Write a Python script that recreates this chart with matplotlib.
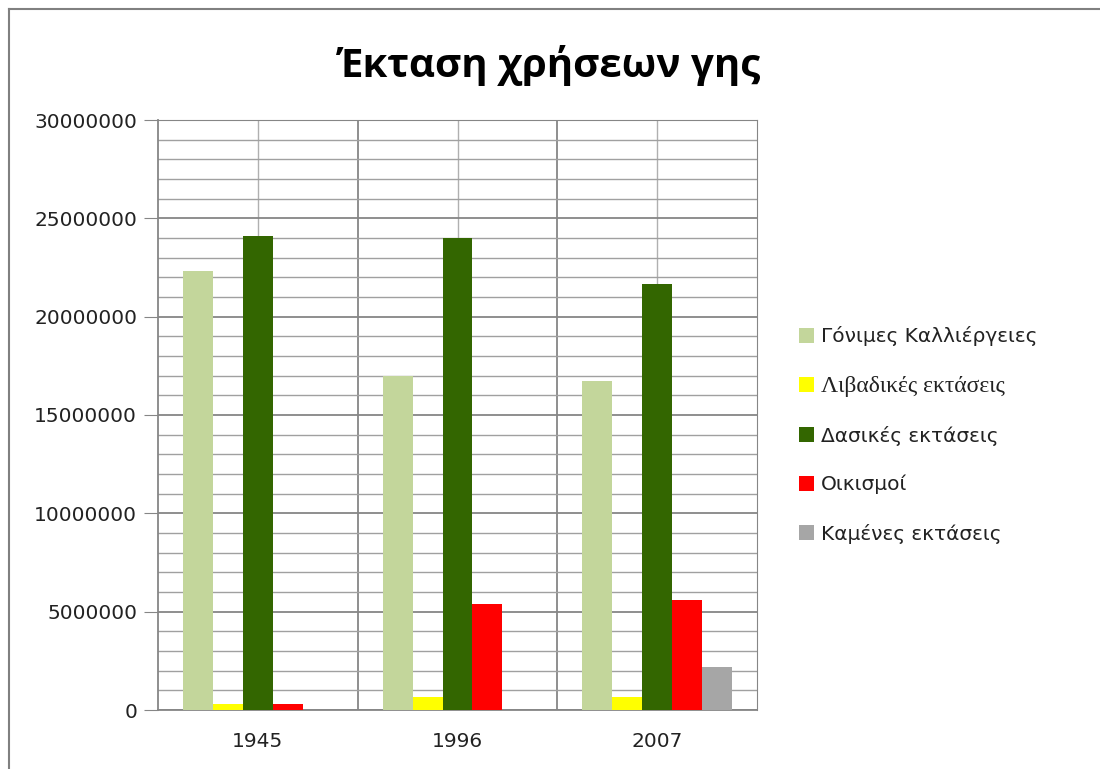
import numpy as np
import matplotlib.pyplot as plt
from matplotlib.lines import Line2D
from matplotlib.ticker import MultipleLocator

# -------------------------------
# Data
# -------------------------------
years = ['1945', '1996', '2007']
series_names = ['Γόνιμες Καλλιέργειες', 'Λιβαδικές εκτάσεις', 'Δασικές εκτάσεις',
                'Οικισμοί', 'Καμένες εκτάσεις']
fertile = [22300000, 17000000, 16750000]
meadows = [300000, 680000, 680000]
forest = [24100000, 24000000, 21650000]
settlements = [300000, 5370000, 5580000]
burned = [0, 0, 2200000]
colors = ['#C3D69B', '#FFFF00', '#336600', '#FF0000', '#A6A6A6']

values = [fertile, meadows, forest, settlements, burned]

# -------------------------------
# Plot
# -------------------------------
fig = plt.figure(figsize=(11, 7.69), dpi=100)
ax = fig.add_axes([158 / 1100, 1 - 710 / 769, 599 / 1100, 590 / 769])

x = np.arange(len(years))
bw = 0.15
for i, (vals, col, name) in enumerate(zip(values, colors, series_names)):
    ax.bar(x - 0.375 + bw * (i + 0.5), vals, width=bw, color=col, label=name, zorder=3)

ax.set_xlim(-0.5, 2.5)
ax.set_ylim(0, 30000000)
ax.yaxis.set_major_locator(MultipleLocator(5000000))
ax.yaxis.set_minor_locator(MultipleLocator(1000000))
ax.set_xticks(x)
ax.set_xticks([0.5, 1.5], minor=True)
ax.set_xticklabels(years)
ax.yaxis.set_major_formatter(plt.FuncFormatter(lambda v, p: '%d' % v))

ax.grid(which='major', axis='y', color='#868686', linewidth=1.3, zorder=0)
ax.grid(which='minor', axis='y', color='#A0A0A0', linewidth=1.0, zorder=0)
ax.grid(which='major', axis='x', color='#B0B0B0', linewidth=1.0, zorder=0)
ax.grid(which='minor', axis='x', color='#868686', linewidth=1.3, zorder=0)

for s in ['top', 'right']:
    ax.spines[s].set_color('#868686')
for s in ['left', 'bottom']:
    ax.spines[s].set_color('#868686')
    ax.spines[s].set_linewidth(1.3)

ax.tick_params(axis='y', which='major', length=10, color='#868686', labelsize=14.5,
               pad=5, labelcolor='#222222')
ax.tick_params(axis='y', which='minor', length=0)
ax.tick_params(axis='x', which='both', length=0, labelsize=14.5, pad=16,
               labelcolor='#222222')
for lbl in ax.get_xticklabels() + ax.get_yticklabels():
    lbl.set_family('DejaVu Sans')

fig.text(0.5, 1 - 66 / 769, 'Έκταση χρήσεων γης', ha='center', va='center',
         fontsize=29, fontweight='bold', family='Open Sans')

leg = fig.legend(loc='center left', bbox_to_anchor=(781 / 1100, 1 - 435 / 769),
                 frameon=False, handlelength=0.75, handleheight=0.75,
                 handletextpad=0.35, labelspacing=1.45,
                 prop={'family': 'DejaVu Sans', 'size': 14.5})
for t in leg.get_texts():
    t.set_color('#222222')
    if t.get_text() == 'Λιβαδικές εκτάσεις':
        t.set_family('Liberation Serif')
        t.set_fontsize(17)

# outer chart frame (left and top edges)
fig.add_artist(Line2D([9 / 1100, 9 / 1100], [0, 1 - 9 / 769], color='#808080', linewidth=1.5))
fig.add_artist(Line2D([9 / 1100, 1], [1 - 9 / 769, 1 - 9 / 769], color='#808080', linewidth=1.5))

plt.savefig('out.png', dpi=100)
